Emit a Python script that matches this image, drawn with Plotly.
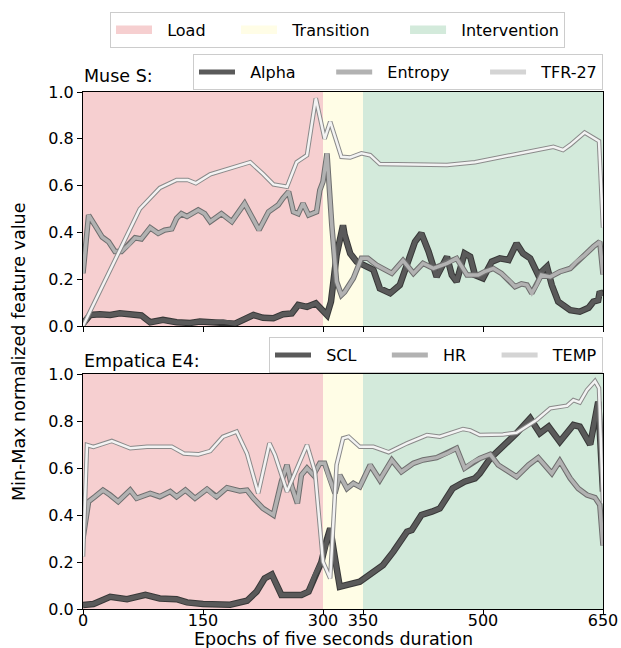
import plotly.graph_objects as go

# ---------------- data ----------------
phase_names = ["Load", "Transition", "Intervention"]
phase_start = [0, 300, 350]
phase_end = [300, 350, 650]

x_ticks = [0, 150, 300, 350, 500, 650]
y_ticks = [0.0, 0.2, 0.4, 0.6, 0.8, 1.0]

muse_names = ["Alpha", "Entropy", "TFR-27"]
e4_names = ["SCL", "HR", "TEMP"]

# Muse S
alpha_x = [0, 9, 21, 34, 46, 59, 73, 84, 100, 117, 134, 146, 163, 175, 190, 213, 225, 238, 250, 261,
           269, 280, 291, 305, 310, 317, 325, 327, 334, 342, 355, 363, 371, 384, 396, 407, 415, 423,
           432, 442, 455, 461, 467, 477, 484, 490, 500, 511, 521, 532, 542, 550, 559, 569, 580, 586,
           594, 609, 621, 632, 638, 644, 646, 650]
alpha_y = [0.01, 0.047, 0.05, 0.047, 0.054, 0.05, 0.045, 0.016, 0.026, 0.016, 0.013, 0.019, 0.016,
           0.019, 0.01, 0.047, 0.035, 0.033, 0.05, 0.054, 0.09, 0.082, 0.097, 0.047, 0.104, 0.303,
           0.43, 0.39, 0.31, 0.275, 0.254, 0.24, 0.161, 0.14, 0.175, 0.289, 0.36, 0.396, 0.318, 0.21,
           0.296, 0.218, 0.19, 0.31, 0.296, 0.218, 0.204, 0.275, 0.289, 0.282, 0.353, 0.31, 0.289,
           0.218, 0.254, 0.175, 0.104, 0.068, 0.061, 0.078, 0.104, 0.11, 0.147, 0.13]

entropy_x = [0, 7, 15, 24, 32, 40, 48, 57, 65, 73, 84, 94, 102, 111, 117, 123, 130, 136, 144, 152,
             159, 173, 186, 202, 213, 220, 232, 244, 250, 257, 263, 269, 275, 282, 292, 296, 300, 305,
             311, 317, 323, 327, 338, 348, 356, 367, 386, 400, 413, 425, 438, 455, 467, 480, 494, 502,
             513, 523, 534, 540, 548, 555, 561, 567, 573, 584, 596, 609, 617, 627, 638, 646, 650]
entropy_y = [0.225, 0.474, 0.43, 0.38, 0.36, 0.318, 0.318, 0.346, 0.377, 0.372, 0.42, 0.396, 0.41,
             0.415, 0.46, 0.48, 0.468, 0.48, 0.496, 0.48, 0.446, 0.48, 0.446, 0.524, 0.45, 0.41, 0.488,
             0.517, 0.546, 0.574, 0.488, 0.48, 0.524, 0.474, 0.488, 0.58, 0.617, 0.738, 0.43, 0.19,
             0.132, 0.145, 0.204, 0.289, 0.289, 0.26, 0.225, 0.28, 0.225, 0.268, 0.246, 0.268, 0.289,
             0.218, 0.218, 0.232, 0.246, 0.225, 0.19, 0.168, 0.18, 0.175, 0.14, 0.175, 0.218, 0.21,
             0.232, 0.246, 0.275, 0.303, 0.339, 0.36, 0.22]

tfr_x = [0, 20, 46, 71, 96, 117, 131, 141, 159, 185, 209, 225, 238, 255, 267, 280, 291, 302, 309,
         323, 334, 348, 359, 371, 455, 490, 588, 600, 609, 627, 640, 645, 650]
tfr_y = [0.0, 0.14, 0.32, 0.50, 0.59, 0.624, 0.624, 0.61, 0.648, 0.675, 0.70, 0.65, 0.605, 0.595,
         0.70, 0.73, 0.973, 0.80, 0.873, 0.723, 0.72, 0.738, 0.73, 0.692, 0.688, 0.70, 0.766, 0.752,
         0.774, 0.827, 0.80, 0.79, 0.42]

# Empatica E4
scl_x = [0, 13, 34, 55, 78, 96, 117, 130, 150, 184, 205, 217, 227, 236, 248, 259, 273, 282, 290,
         298, 304, 309, 315, 321, 346, 375, 388, 405, 411, 423, 436, 446, 462, 477, 490, 496, 509,
         525, 542, 559, 563, 571, 582, 596, 613, 621, 634, 644, 650]
scl_y = [0.017, 0.021, 0.052, 0.042, 0.06, 0.045, 0.042, 0.028, 0.021, 0.018, 0.035, 0.074, 0.13,
         0.147, 0.06, 0.062, 0.06, 0.074, 0.145, 0.20, 0.286, 0.343, 0.216, 0.095, 0.116, 0.187,
         0.244, 0.329, 0.336, 0.40, 0.414, 0.428, 0.513, 0.542, 0.556, 0.577, 0.641, 0.69, 0.748,
         0.811, 0.79, 0.748, 0.776, 0.712, 0.783, 0.776, 0.70, 0.882, 0.5]

hr_x = [0, 7, 15, 25, 34, 44, 59, 67, 84, 96, 109, 117, 128, 140, 155, 163, 167, 180, 196, 205, 213,
        225, 238, 248, 255, 261, 268, 273, 280, 288, 296, 302, 307, 315, 321, 327, 330, 338, 346,
        359, 371, 386, 398, 413, 425, 442, 455, 467, 477, 488, 496, 509, 519, 542, 557, 569, 586,
        596, 609, 619, 630, 640, 646, 650]
hr_y = [0.30, 0.457, 0.478, 0.506, 0.485, 0.457, 0.506, 0.471, 0.492, 0.478, 0.50, 0.478, 0.506,
        0.471, 0.51, 0.485, 0.478, 0.516, 0.502, 0.506, 0.471, 0.428, 0.40, 0.542, 0.613, 0.52,
        0.45, 0.57, 0.599, 0.57, 0.62, 0.62, 0.565, 0.492, 0.57, 0.535, 0.513, 0.535, 0.52, 0.613,
        0.549, 0.634, 0.584, 0.62, 0.634, 0.644, 0.662, 0.684, 0.599, 0.627, 0.641, 0.658, 0.613,
        0.563, 0.613, 0.644, 0.577, 0.63, 0.556, 0.513, 0.485, 0.474, 0.443, 0.27]

temp_x = [0, 5, 13, 36, 59, 80, 111, 126, 144, 159, 175, 192, 205, 219, 233, 240, 255, 268, 280,
          290, 300, 309, 317, 325, 332, 346, 363, 382, 405, 430, 446, 475, 484, 496, 525, 542, 567,
          584, 605, 613, 621, 630, 640, 645, 650]
temp_y = [0.223, 0.698, 0.69, 0.715, 0.684, 0.69, 0.69, 0.662, 0.658, 0.672, 0.733, 0.755, 0.662,
          0.492, 0.705, 0.655, 0.499, 0.599, 0.698, 0.584, 0.201, 0.13, 0.613, 0.726, 0.733, 0.69,
          0.69, 0.667, 0.705, 0.74, 0.733, 0.766, 0.76, 0.74, 0.743, 0.75, 0.804, 0.854, 0.865,
          0.889, 0.879, 0.932, 0.97, 0.94, 0.45]

# ---------------- styling ----------------
FONT = "DejaVu Sans"
W, H = 621, 648
phase_colors = ["#f6cfd0", "#fffde6", "#d3eadb"]
styles = [
    dict(fill="#5a5a5a", edge="#383838", w=4.5, legend="#5a5a5a"),
    dict(fill="#b2b2b2", edge="#6e6e6e", w=3.5, legend="#b2b2b2"),
    dict(fill="#f3f3f3", edge="#8a8a8a", w=2.5, legend="#d4d4d4"),
]
NBSP = "\u00a0"


def label(name, i, trails):
    return NBSP * 2 + name + (NBSP * trails[i] if i < len(trails) else "")


def px_x(p):
    return p / W


def px_y(p):
    return 1 - p / H


fig = go.Figure()


def add_series(x, y, st, xa, ya):
    fig.add_trace(go.Scatter(x=x, y=y, mode="lines", xaxis=xa, yaxis=ya, showlegend=False,
                             hoverinfo="skip",
                             line=dict(color=st["edge"], width=st["w"] + 2)))
    fig.add_trace(go.Scatter(x=x, y=y, mode="lines", xaxis=xa, yaxis=ya, showlegend=False,
                             line=dict(color=st["fill"], width=st["w"])))


muse_data = [(alpha_x, alpha_y), (entropy_x, entropy_y), (tfr_x, tfr_y)]
e4_data = [(scl_x, scl_y), (hr_x, hr_y), (temp_x, temp_y)]

for (x, y), st in zip(muse_data, styles):
    add_series(x, y, st, "x", "y")
for (x, y), st in zip(e4_data, styles):
    add_series(x, y, st, "x2", "y2")

# legend-only entries for phases (filled patches)
for i, (nm, c) in enumerate(zip(phase_names, phase_colors)):
    fig.add_trace(go.Scatter(x=[None], y=[None], mode="lines", fill="toself", fillcolor=c,
                             line=dict(color=c, width=5), name=label(nm, i, [5, 6]),
                             legend="legend", xaxis="x", yaxis="y"))

# legend-only entries for lines
for i, (nm, st) in enumerate(zip(muse_names, styles)):
    fig.add_trace(go.Scatter(x=[None], y=[None], mode="lines", name=label(nm, i, [6, 6]),
                             legend="legend2", line=dict(color=st["legend"], width=5),
                             xaxis="x", yaxis="y"))
for i, (nm, st) in enumerate(zip(e4_names, styles)):
    fig.add_trace(go.Scatter(x=[None], y=[None], mode="lines", name=label(nm, i, [5, 5]),
                             legend="legend3", line=dict(color=st["legend"], width=5),
                             xaxis="x2", yaxis="y2"))

# phase shading
for xref, yref in [("x", "y domain"), ("x2", "y2 domain")]:
    for s, e, c in zip(phase_start, phase_end, phase_colors):
        fig.add_shape(type="rect", xref=xref, yref=yref, x0=s, x1=e, y0=0, y1=1,
                      fillcolor=c, line=dict(width=0), layer="below")

xdom = [px_x(83), px_x(603)]
axis_common = dict(showline=True, mirror=True, linecolor="black", linewidth=1, ticks="outside",
                   ticklen=5, tickwidth=1, tickcolor="black", showgrid=False, zeroline=False,
                   tickfont=dict(family=FONT, size=16, color="black"))

legend_common = dict(orientation="h", bordercolor="#cccccc", borderwidth=1, bgcolor="white",
                     itemwidth=36, font=dict(family=FONT, size=16))

fig.update_layout(
    width=W, height=H, margin=dict(l=0, r=0, t=0, b=0, autoexpand=False),
    paper_bgcolor="white", plot_bgcolor="rgba(0,0,0,0)",
    font=dict(family=FONT, size=16, color="black"),
    showlegend=True,
    xaxis=dict(domain=xdom, range=[0, 650], tickvals=x_ticks, showticklabels=False,
               anchor="y", **axis_common),
    yaxis=dict(domain=[px_y(326), px_y(92)], range=[0, 1], tickvals=y_ticks, tickformat=".1f",
               anchor="x", **axis_common),
    xaxis2=dict(domain=xdom, range=[0, 650], tickvals=x_ticks, anchor="y2",
                ticklabelstandoff=-8, **axis_common),
    yaxis2=dict(domain=[px_y(609), px_y(374)], range=[0, 1], tickvals=y_ticks, tickformat=".1f",
                anchor="x2", **axis_common),
    legend=dict(x=px_x(110), xanchor="left", y=px_y(12), yanchor="top", **legend_common),
    legend2=dict(x=px_x(603), xanchor="right", y=px_y(90), yanchor="bottom", **legend_common),
    legend3=dict(x=px_x(603), xanchor="right", y=px_y(373), yanchor="bottom", **legend_common),
    annotations=[
        dict(text="Muse S:", x=px_x(82), y=px_y(88), xref="paper", yref="paper",
             xanchor="left", yanchor="bottom", showarrow=False,
             font=dict(family=FONT, size=17.5)),
        dict(text="Empatica E4:", x=px_x(82), y=px_y(373), xref="paper", yref="paper",
             xanchor="left", yanchor="bottom", showarrow=False,
             font=dict(family=FONT, size=17.5)),
        dict(text="Epochs of five seconds duration", x=px_x(334), y=px_y(639), xref="paper",
             yref="paper", xanchor="center", yanchor="middle", showarrow=False,
             font=dict(family=FONT, size=17.5)),
        dict(text="Min-Max normalized feature value", x=px_x(19), y=px_y(352), xref="paper",
             yref="paper", xanchor="center", yanchor="middle", showarrow=False, textangle=-90,
             font=dict(family=FONT, size=17.5)),
    ],
)

fig.write_html("out.html", config={"displayModeBar": False},
               post_script="document.body.style.margin='0px';")
